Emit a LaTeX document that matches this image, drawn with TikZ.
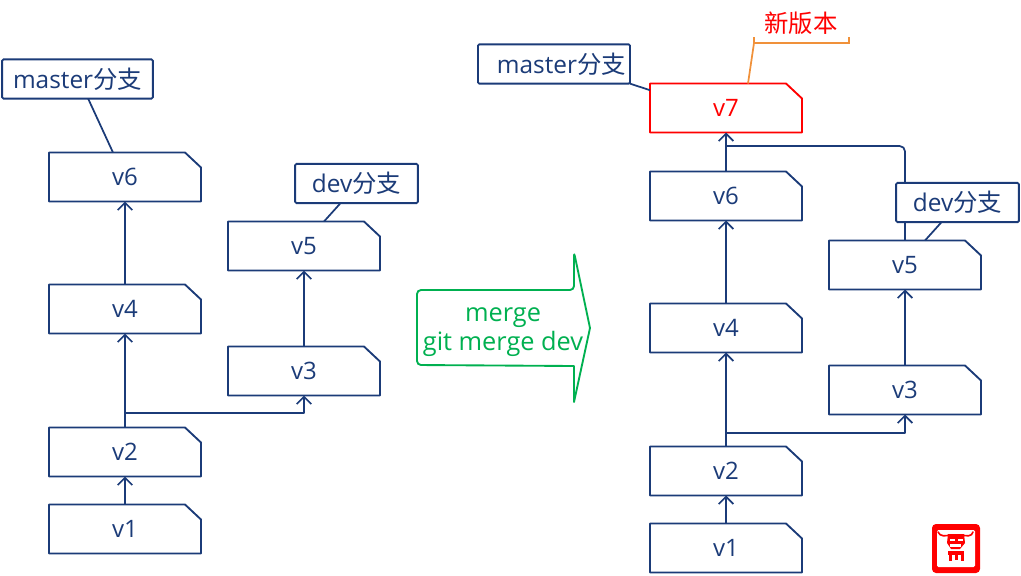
\documentclass[tikz,border=0pt]{standalone}
\usepackage{fontspec}
\usepackage{xcolor}
\setmainfont{Open Sans}
\newfontfamily\cjk{Noto Sans CJK SC}
\usetikzlibrary{
    arrows.meta,
    calc
}
\definecolor{navy}{HTML}{1B3B78}
\definecolor{mergegreen}{HTML}{00B050}
\definecolor{noteorange}{HTML}{F0913A}
\tikzset{
    link/.style={draw=navy, line width=1.3pt, line join=round, >={Straight Barb[length=5.5pt, width=11pt]}},
    verbox/.style={minimum width=114pt, minimum height=36.75pt, inner sep=0pt, outer sep=0pt, font=\fontsize{18}{21}\selectfont},
    branchbox/.style={draw=navy, line width=1.4pt, fill=white, text=navy, rounded corners=1pt, minimum height=29.5pt, inner sep=0pt, outer sep=0pt, font=\fontsize{18.3}{21}\selectfont}
}
\newcommand{\vernode}[4][navy]{
    \node[verbox, text=#1] (#2) at (#3) {#4};
    \draw[draw=#1, line width=1.4pt, line join=round]
    (#2.north west) -- ($(#2.north east) + (-16, 0)$) -- ($(#2.north east) + (0, 15)$)
    -- (#2.south east) -- (#2.south west) -- cycle;
}
\begin{document}
\begin{tikzpicture}[x=0.75pt, y=-0.75pt]
    \useasboundingbox (0, 0) rectangle (1021, 575);
    % before the merge
    \begin{scope}
        \vernode{v1}{125, 529}{v1}
        \vernode{v2}{125, 452}{v2}
        \vernode{v4}{125, 309}{v4}
        \vernode{v6}{125, 177}{v6}
        \vernode{v3}{304, 371}{v3}
        \vernode{v5}{304, 246}{v5}
        \coordinate (split) at (125, 413);
        \draw[link, ->] (v1) -- (v2);
        \draw[link, ->] (v2) -- (v4);
        \draw[link, ->] (v4) -- (v6);
        \draw[link, ->] (v3) -- (v5);
        \draw[link, ->] (split) -| (v3);
        \node[branchbox, minimum width=113pt] (master) at (77.5, 79) {master{\cjk 分支}};
        \node[branchbox, minimum width=92pt] (dev) at (356.5, 183.5) {dev{\cjk 分支}};
        \draw[link] ([xshift=8pt]master.south) -- ([xshift=-9pt]v6.north);
        \draw[link] ([xshift=-12pt]dev.south) -- ([xshift=15pt]v5.north);
    \end{scope}
    % the big arrow
    \node[text=mergegreen, align=center, font=\fontsize{19}{21.75}\selectfont] (merge) at (503, 332) {merge\\git merge dev};
    \draw[draw=mergegreen, line width=1.4pt, line join=round, rounded corners=3pt]
    (417, 290) -- (574, 290) -- (574, 252) [sharp corners] -- (590, 328) -- (574, 402) -- (574, 366) [rounded corners=3pt] -- (417, 365) -- cycle;
    % after the merge
    \begin{scope}[shift={(601, 19)}]
        \vernode{v1}{125, 529}{v1}
        \vernode{v2}{125, 452}{v2}
        \vernode{v4}{125, 309}{v4}
        \vernode{v6}{125, 177}{v6}
        \vernode[red]{v7}{125, 89}{v7}
        \vernode{v3}{304, 371}{v3}
        \vernode{v5}{304, 246}{v5}
        \coordinate (split) at (125, 414);
        \coordinate (join) at (125, 127);
        \draw[link, ->] (v1) -- (v2);
        \draw[link, ->] (v2) -- (v4);
        \draw[link, ->] (v4) -- (v6);
        \draw[link, ->] (v6) -- (v7);
        \draw[link, ->] (v3) -- (v5);
        \draw[link, ->] (split) -| (v3);
        \draw[link, rounded corners=4pt] (v5) |- (join);
        \node[branchbox, minimum width=92pt] (dev) at (356.5, 183.5) {dev{\cjk 分支}};
        \node[branchbox, minimum width=114pt] (master) at (-47, 45) {\hspace*{11pt}master{\cjk 分支}};
        \draw[link] ([xshift=-12pt]dev.south) -- ([xshift=15pt]v5.north);
        \draw[link] (master.south east) -- ([yshift=-5pt]v7.north west);
    \end{scope}
    % note on v7
    \node[text=red, font=\fontsize{18.3}{21}\selectfont] (newver) at (801, 23) {\cjk 新版本};
    \coordinate (notel) at (754, 43);
    \coordinate (noter) at (849, 43);
    \draw[draw=noteorange, line width=1.3pt] (v7.north -| 748, 0) -- (notel);
    \draw[draw=noteorange, line width=1.3pt] ($(notel) + (0, -6)$) -- (notel) -- (noter) -- ($(noter) + (0, -6)$);
    % seal
    \begin{scope}
        \fill[red, rounded corners=3pt] (932, 524) rectangle (980, 573);
        \fill[white, rounded corners=1pt] (937, 530) rectangle (975, 567);
        \draw[red, line width=1.2pt, line cap=round] (938, 532) .. controls (940, 537) and (946, 536) .. (950, 535) -- (962, 535) .. controls (966, 536) and (972, 537) .. (973, 532);
        \fill[red] (948, 534) -- (964, 534) -- (965, 543) -- (960, 549) -- (951, 549) -- (947, 543) -- cycle;
        \fill[white] (950, 539) rectangle (955, 541);
        \fill[white] (958, 539) rectangle (963, 541);
        \fill[white] (950, 544) rectangle (961, 546.5);
        \fill[red] (948, 551) rectangle (964, 555);
        \fill[red] (949, 555) rectangle (952, 561);
        \fill[red] (954.5, 555) rectangle (957.5, 560);
        \fill[red] (961, 555) rectangle (964, 561);
    \end{scope}
\end{tikzpicture}
\end{document}
